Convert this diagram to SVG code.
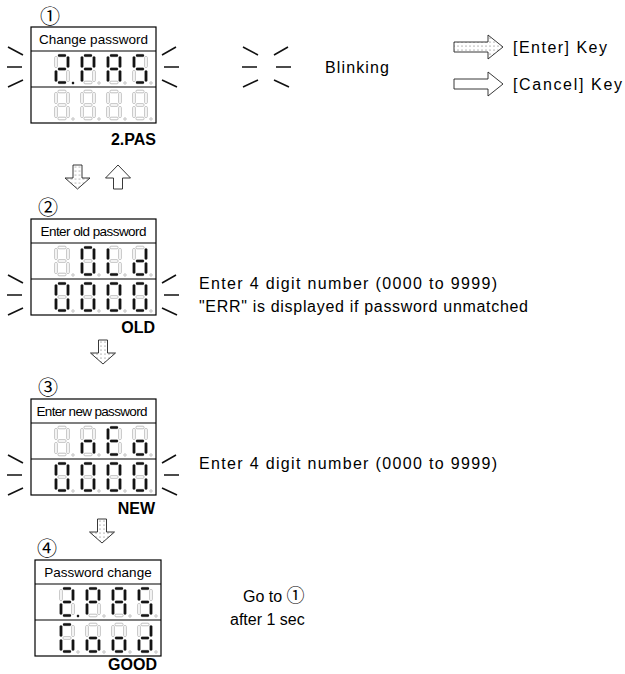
<svg xmlns="http://www.w3.org/2000/svg" xmlns:xlink="http://www.w3.org/1999/xlink" width="625" height="674" viewBox="0 0 625 674">
<style>
.box{fill:#fff;stroke:#000;stroke-width:1.2}
.sep{stroke:#000;stroke-width:1.2}
.hdr{font-family:"Liberation Sans",Arial,sans-serif;font-size:13.5px;fill:#000;text-anchor:middle}
.lbl{font-family:"Liberation Sans",Arial,sans-serif;font-size:16px;font-weight:bold;fill:#000;text-anchor:end}
.txt{font-family:"Liberation Sans",Arial,sans-serif;font-size:16px;fill:#000}
.num{font-family:"Noto Sans CJK JP","DejaVu Sans",sans-serif;font-size:20px;fill:#000;text-anchor:middle}
.d use{fill:#fff;stroke:#b8b8b8;stroke-width:.9}
.d use.on{fill:#151515;stroke:#151515;stroke-width:.2}
.blink path{stroke:#111;stroke-width:1.6;fill:none}
.ent{fill:url(#dots);stroke:#222;stroke-width:.9}
.can{fill:#fff;stroke:#222;stroke-width:.9}
</style>
<defs>
<pattern id="dots" width="4" height="4" patternUnits="userSpaceOnUse"><rect width="4" height="4" fill="#fff"/><circle cx="2" cy="2" r=".5" fill="#444"/></pattern>
<rect id="sa" x="3" y="0.2" width="8" height="2.6" rx="1"/>
<rect id="sb" x="11.7" y="2.5" width="2.6" height="11" rx="1"/>
<rect id="sc" x="11.7" y="16.5" width="2.6" height="11" rx="1"/>
<rect id="sd" x="3" y="27.2" width="8" height="2.6" rx="1"/>
<rect id="se" x="-0.3" y="16.5" width="2.6" height="11" rx="1"/>
<rect id="sf" x="-0.3" y="2.5" width="2.6" height="11" rx="1"/>
<rect id="sg" x="3" y="13.7" width="8" height="2.6" rx="1"/>
<circle id="dp" cx="18" cy="29" r="1.2"/>
<g id="bl" class="blink"><path d="M0,-20L15,-12M-1,0H14M0,20L15,13"/></g>
<g id="br" class="blink"><path d="M0,-12L14,-20M2,0H17M0,13L15,20"/></g>
<path id="dn" d="M-4.5,0h9v13h8l-12.5,11l-12.5,-11h8z"/>
<path id="up" d="M-4.5,24h9v-11h8l-12.5,-13l-12.5,13h8z"/>
</defs>
<rect width="625" height="674" fill="#fff"/>

<g id="legend">
<use xlink:href="#bl" x="243" y="67"/>
<use xlink:href="#br" x="274" y="67"/>
<text class="txt" x="325" y="73" textLength="64">Blinking</text>
<path class="ent" d="M454,42h34v-7l15,12l-15,12v-7h-34z"/>
<text class="txt" x="513" y="53" textLength="94">[Enter] Key</text>
<path class="can" d="M454,79h34v-7l15,12l-15,12v-7h-34z"/>
<text class="txt" x="513" y="90" textLength="109">[Cancel] Key</text>
</g>

<g id="state1">
<text class="num" x="50" y="24">①</text>
<rect class="box" x="31" y="27" width="125" height="96"/>
<line class="sep" x1="31" y1="51" x2="156" y2="51"/>
<line class="sep" x1="31" y1="87" x2="156" y2="87"/>
<text class="hdr" x="93.5" y="43.5">Change password</text>
<g class="d" transform="translate(55,54)"><use xlink:href="#sa" class="on"/><use xlink:href="#sb" class="on"/><use xlink:href="#sc"/><use xlink:href="#sd" class="on"/><use xlink:href="#se" class="on"/><use xlink:href="#sf"/><use xlink:href="#sg" class="on"/><use xlink:href="#dp" class="on"/></g>
<g class="d" transform="translate(81,54)"><use xlink:href="#sa" class="on"/><use xlink:href="#sb" class="on"/><use xlink:href="#sc"/><use xlink:href="#sd"/><use xlink:href="#se" class="on"/><use xlink:href="#sf" class="on"/><use xlink:href="#sg" class="on"/><use xlink:href="#dp"/></g>
<g class="d" transform="translate(107,54)"><use xlink:href="#sa" class="on"/><use xlink:href="#sb" class="on"/><use xlink:href="#sc" class="on"/><use xlink:href="#sd"/><use xlink:href="#se" class="on"/><use xlink:href="#sf" class="on"/><use xlink:href="#sg" class="on"/><use xlink:href="#dp"/></g>
<g class="d" transform="translate(133,54)"><use xlink:href="#sa" class="on"/><use xlink:href="#sb"/><use xlink:href="#sc" class="on"/><use xlink:href="#sd" class="on"/><use xlink:href="#se"/><use xlink:href="#sf" class="on"/><use xlink:href="#sg" class="on"/><use xlink:href="#dp"/></g>
<g class="d" transform="translate(55,90)"><use xlink:href="#sa"/><use xlink:href="#sb"/><use xlink:href="#sc"/><use xlink:href="#sd"/><use xlink:href="#se"/><use xlink:href="#sf"/><use xlink:href="#sg"/><use xlink:href="#dp"/></g>
<g class="d" transform="translate(81,90)"><use xlink:href="#sa"/><use xlink:href="#sb"/><use xlink:href="#sc"/><use xlink:href="#sd"/><use xlink:href="#se"/><use xlink:href="#sf"/><use xlink:href="#sg"/><use xlink:href="#dp"/></g>
<g class="d" transform="translate(107,90)"><use xlink:href="#sa"/><use xlink:href="#sb"/><use xlink:href="#sc"/><use xlink:href="#sd"/><use xlink:href="#se"/><use xlink:href="#sf"/><use xlink:href="#sg"/><use xlink:href="#dp"/></g>
<g class="d" transform="translate(133,90)"><use xlink:href="#sa"/><use xlink:href="#sb"/><use xlink:href="#sc"/><use xlink:href="#sd"/><use xlink:href="#se"/><use xlink:href="#sf"/><use xlink:href="#sg"/><use xlink:href="#dp"/></g>
<use xlink:href="#bl" x="8" y="67"/>
<use xlink:href="#br" x="162" y="67"/>
<text class="lbl" x="156" y="145">2.PAS</text>
</g>

<g id="state2">
<text class="num" x="48" y="215">②</text>
<rect class="box" x="31" y="219" width="125" height="96"/>
<line class="sep" x1="31" y1="243" x2="156" y2="243"/>
<line class="sep" x1="31" y1="279" x2="156" y2="279"/>
<text class="hdr" x="93.5" y="235.5" textLength="106">Enter old password</text>
<g class="d" transform="translate(55,246)"><use xlink:href="#sa"/><use xlink:href="#sb"/><use xlink:href="#sc"/><use xlink:href="#sd"/><use xlink:href="#se"/><use xlink:href="#sf"/><use xlink:href="#sg"/><use xlink:href="#dp"/></g>
<g class="d" transform="translate(81,246)"><use xlink:href="#sa" class="on"/><use xlink:href="#sb" class="on"/><use xlink:href="#sc" class="on"/><use xlink:href="#sd" class="on"/><use xlink:href="#se" class="on"/><use xlink:href="#sf" class="on"/><use xlink:href="#sg"/><use xlink:href="#dp"/></g>
<g class="d" transform="translate(107,246)"><use xlink:href="#sa"/><use xlink:href="#sb"/><use xlink:href="#sc"/><use xlink:href="#sd" class="on"/><use xlink:href="#se" class="on"/><use xlink:href="#sf" class="on"/><use xlink:href="#sg"/><use xlink:href="#dp"/></g>
<g class="d" transform="translate(133,246)"><use xlink:href="#sa"/><use xlink:href="#sb" class="on"/><use xlink:href="#sc" class="on"/><use xlink:href="#sd" class="on"/><use xlink:href="#se" class="on"/><use xlink:href="#sf"/><use xlink:href="#sg" class="on"/><use xlink:href="#dp"/></g>
<g class="d" transform="translate(55,282)"><use xlink:href="#sa" class="on"/><use xlink:href="#sb" class="on"/><use xlink:href="#sc" class="on"/><use xlink:href="#sd" class="on"/><use xlink:href="#se" class="on"/><use xlink:href="#sf" class="on"/><use xlink:href="#sg"/><use xlink:href="#dp"/></g>
<g class="d" transform="translate(81,282)"><use xlink:href="#sa" class="on"/><use xlink:href="#sb" class="on"/><use xlink:href="#sc" class="on"/><use xlink:href="#sd" class="on"/><use xlink:href="#se" class="on"/><use xlink:href="#sf" class="on"/><use xlink:href="#sg"/><use xlink:href="#dp"/></g>
<g class="d" transform="translate(107,282)"><use xlink:href="#sa" class="on"/><use xlink:href="#sb" class="on"/><use xlink:href="#sc" class="on"/><use xlink:href="#sd" class="on"/><use xlink:href="#se" class="on"/><use xlink:href="#sf" class="on"/><use xlink:href="#sg"/><use xlink:href="#dp"/></g>
<g class="d" transform="translate(133,282)"><use xlink:href="#sa" class="on"/><use xlink:href="#sb" class="on"/><use xlink:href="#sc" class="on"/><use xlink:href="#sd" class="on"/><use xlink:href="#se" class="on"/><use xlink:href="#sf" class="on"/><use xlink:href="#sg"/><use xlink:href="#dp"/></g>
<use xlink:href="#bl" x="8" y="295"/>
<use xlink:href="#br" x="162" y="295"/>
<text class="lbl" x="155" y="333">OLD</text>
<text class="txt" x="199" y="289" textLength="298">Enter 4 digit number (0000 to 9999)</text>
<text class="txt" x="199" y="312" textLength="329">"ERR" is displayed if password unmatched</text>
</g>

<g id="state3">
<text class="num" x="48" y="395">③</text>
<rect class="box" x="31" y="399" width="125" height="96"/>
<line class="sep" x1="31" y1="423" x2="156" y2="423"/>
<line class="sep" x1="31" y1="459" x2="156" y2="459"/>
<text class="hdr" x="92" y="415.5" textLength="111">Enter new password</text>
<g class="d" transform="translate(55,426)"><use xlink:href="#sa"/><use xlink:href="#sb"/><use xlink:href="#sc"/><use xlink:href="#sd"/><use xlink:href="#se"/><use xlink:href="#sf"/><use xlink:href="#sg"/><use xlink:href="#dp"/></g>
<g class="d" transform="translate(81,426)"><use xlink:href="#sa"/><use xlink:href="#sb"/><use xlink:href="#sc" class="on"/><use xlink:href="#sd"/><use xlink:href="#se" class="on"/><use xlink:href="#sf"/><use xlink:href="#sg" class="on"/><use xlink:href="#dp"/></g>
<g class="d" transform="translate(107,426)"><use xlink:href="#sa" class="on"/><use xlink:href="#sb"/><use xlink:href="#sc"/><use xlink:href="#sd" class="on"/><use xlink:href="#se" class="on"/><use xlink:href="#sf" class="on"/><use xlink:href="#sg" class="on"/><use xlink:href="#dp"/></g>
<g class="d" transform="translate(133,426)"><use xlink:href="#sa"/><use xlink:href="#sb"/><use xlink:href="#sc" class="on"/><use xlink:href="#sd" class="on"/><use xlink:href="#se" class="on"/><use xlink:href="#sf"/><use xlink:href="#sg" class="on"/><use xlink:href="#dp"/></g>
<g class="d" transform="translate(55,462)"><use xlink:href="#sa" class="on"/><use xlink:href="#sb" class="on"/><use xlink:href="#sc" class="on"/><use xlink:href="#sd" class="on"/><use xlink:href="#se" class="on"/><use xlink:href="#sf" class="on"/><use xlink:href="#sg"/><use xlink:href="#dp"/></g>
<g class="d" transform="translate(81,462)"><use xlink:href="#sa" class="on"/><use xlink:href="#sb" class="on"/><use xlink:href="#sc" class="on"/><use xlink:href="#sd" class="on"/><use xlink:href="#se" class="on"/><use xlink:href="#sf" class="on"/><use xlink:href="#sg"/><use xlink:href="#dp"/></g>
<g class="d" transform="translate(107,462)"><use xlink:href="#sa" class="on"/><use xlink:href="#sb" class="on"/><use xlink:href="#sc" class="on"/><use xlink:href="#sd" class="on"/><use xlink:href="#se" class="on"/><use xlink:href="#sf" class="on"/><use xlink:href="#sg"/><use xlink:href="#dp"/></g>
<g class="d" transform="translate(133,462)"><use xlink:href="#sa" class="on"/><use xlink:href="#sb" class="on"/><use xlink:href="#sc" class="on"/><use xlink:href="#sd" class="on"/><use xlink:href="#se" class="on"/><use xlink:href="#sf" class="on"/><use xlink:href="#sg"/><use xlink:href="#dp"/></g>
<use xlink:href="#bl" x="8" y="475"/>
<use xlink:href="#br" x="162" y="475"/>
<text class="lbl" x="155" y="514">NEW</text>
<text class="txt" x="199" y="469" textLength="298">Enter 4 digit number (0000 to 9999)</text>
</g>

<g id="state4">
<text class="num" x="47" y="556">④</text>
<rect class="box" x="35" y="560" width="126" height="96"/>
<line class="sep" x1="35" y1="584" x2="161" y2="584"/>
<line class="sep" x1="35" y1="620" x2="161" y2="620"/>
<text class="hdr" x="98" y="576.5">Password change</text>
<g class="d" transform="translate(60,587)"><use xlink:href="#sa" class="on"/><use xlink:href="#sb" class="on"/><use xlink:href="#sc"/><use xlink:href="#sd" class="on"/><use xlink:href="#se" class="on"/><use xlink:href="#sf"/><use xlink:href="#sg" class="on"/><use xlink:href="#dp" class="on"/></g>
<g class="d" transform="translate(86,587)"><use xlink:href="#sa" class="on"/><use xlink:href="#sb" class="on"/><use xlink:href="#sc"/><use xlink:href="#sd"/><use xlink:href="#se" class="on"/><use xlink:href="#sf" class="on"/><use xlink:href="#sg" class="on"/><use xlink:href="#dp"/></g>
<g class="d" transform="translate(112,587)"><use xlink:href="#sa" class="on"/><use xlink:href="#sb" class="on"/><use xlink:href="#sc" class="on"/><use xlink:href="#sd"/><use xlink:href="#se" class="on"/><use xlink:href="#sf" class="on"/><use xlink:href="#sg" class="on"/><use xlink:href="#dp"/></g>
<g class="d" transform="translate(138,587)"><use xlink:href="#sa" class="on"/><use xlink:href="#sb"/><use xlink:href="#sc" class="on"/><use xlink:href="#sd" class="on"/><use xlink:href="#se"/><use xlink:href="#sf" class="on"/><use xlink:href="#sg" class="on"/><use xlink:href="#dp"/></g>
<g class="d" transform="translate(60,623)"><use xlink:href="#sa" class="on"/><use xlink:href="#sb"/><use xlink:href="#sc" class="on"/><use xlink:href="#sd" class="on"/><use xlink:href="#se" class="on"/><use xlink:href="#sf" class="on"/><use xlink:href="#sg"/><use xlink:href="#dp"/></g>
<g class="d" transform="translate(86,623)"><use xlink:href="#sa"/><use xlink:href="#sb"/><use xlink:href="#sc" class="on"/><use xlink:href="#sd" class="on"/><use xlink:href="#se" class="on"/><use xlink:href="#sf"/><use xlink:href="#sg" class="on"/><use xlink:href="#dp"/></g>
<g class="d" transform="translate(112,623)"><use xlink:href="#sa"/><use xlink:href="#sb"/><use xlink:href="#sc" class="on"/><use xlink:href="#sd" class="on"/><use xlink:href="#se" class="on"/><use xlink:href="#sf"/><use xlink:href="#sg" class="on"/><use xlink:href="#dp"/></g>
<g class="d" transform="translate(138,623)"><use xlink:href="#sa"/><use xlink:href="#sb" class="on"/><use xlink:href="#sc" class="on"/><use xlink:href="#sd" class="on"/><use xlink:href="#se" class="on"/><use xlink:href="#sf"/><use xlink:href="#sg" class="on"/><use xlink:href="#dp"/></g>
<text class="lbl" x="157" y="670">GOOD</text>
<text class="txt" x="243" y="602">Go to <tspan font-family="'Noto Sans CJK JP',sans-serif" font-size="18">①</tspan></text>
<text class="txt" x="230" y="625">after 1 sec</text>
</g>

<g id="connectors">
<use xlink:href="#dn" class="ent" x="77.5" y="165"/>
<use xlink:href="#up" class="can" x="118" y="165"/>
<use xlink:href="#dn" class="ent" x="103" y="340"/>
<use xlink:href="#dn" class="ent" x="102" y="519"/>
</g>
</svg>
